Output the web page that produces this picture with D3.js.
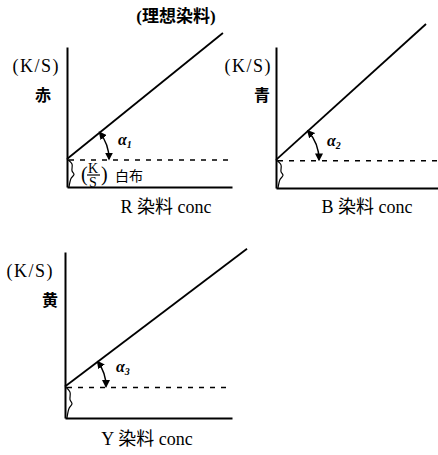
<!DOCTYPE html>
<html>
<head>
<meta charset="utf-8">
<script src="https://cdn.jsdelivr.net/npm/d3@7"></script>
<style>
  html, body { margin: 0; padding: 0; background: #fff; }
  svg { display: block; }
  text { font-family: "Liberation Serif", "Noto Sans CJK JP", serif; fill: #000; }
</style>
</head>
<body>
<script>
// ---- data ----
const title = "(理想染料)";
const dyeNames = ["R", "B", "Y"];
const colorLabels = ["赤", "青", "黄"];
const yAxisLabels = ["(K/S)", "(K/S)", "(K/S)"];
const whiteClothKS = [0.2, 0.2, 0.19];     // K/S of white cloth (intercept)
const lineEndConc = [0.945, 0.926, 1.09];  // dye concentration at end of line
const lineEndKS = [1.1, 1.163, 1.02];      // K/S at end of line
const angleSubs = ["1", "2", "3"];
const whiteClothLabel = "白布";

// ---- layout ----
const W = 438, H = 455;
const panels = [
  { x0: 67, x1: 232, yB: 187, yT: 47, ksEnd: 60, colX: 43, xlabX: 166, xlabY: 213, r: 42 },
  { x0: 276, x1: 438, yB: 188, yT: 47, ksEnd: 272, colX: 262, xlabX: 367, xlabY: 213, r: 43 },
  { x0: 65, x1: 232, yB: 418, yT: 252, ksEnd: 54, colX: 50, xlabX: 147, xlabY: 445, r: 41 }
];

const svg = d3.select("body").append("svg").attr("width", W).attr("height", H);

const defs = svg.append("defs");
defs.append("marker")
  .attr("id", "ah").attr("viewBox", "0 0 10 10").attr("refX", 8).attr("refY", 5)
  .attr("markerWidth", 8).attr("markerHeight", 8).attr("markerUnits", "userSpaceOnUse")
  .attr("orient", "auto-start-reverse")
  .append("path").attr("d", "M0,0 L10,5 L0,10 Z").attr("fill", "#000");

svg.append("text").attr("x", 176).attr("y", 22).attr("text-anchor", "middle")
  .attr("font-size", 17).attr("font-weight", 600).text(title);

panels.forEach((p, i) => {
  const x = d3.scaleLinear().domain([0, 1]).range([p.x0, p.x1]);
  const y = d3.scaleLinear().domain([0, 1]).range([p.yB, p.yT]);
  const g = svg.append("g");

  // axes
  const xAxis = d3.axisBottom(x).tickValues([]).tickSizeOuter(0);
  const yAxis = d3.axisLeft(y).tickValues([]).tickSizeOuter(0);
  const gx = g.append("g").attr("transform", `translate(0,${p.yB})`).call(xAxis);
  const gy = g.append("g").attr("transform", `translate(${p.x0},0)`).call(yAxis);
  [gx, gy].forEach(a => a.select(".domain").attr("stroke", "#000").attr("stroke-width", 2));

  // white cloth dashed level
  g.append("line")
    .attr("x1", x(0) + 2).attr("x2", x(1))
    .attr("y1", y(whiteClothKS[i]) + 1).attr("y2", y(whiteClothKS[i]) + 1)
    .attr("stroke", "#000").attr("stroke-width", 1.6).attr("stroke-dasharray", "5,6");

  // ideal dye line
  const pts = [[0, whiteClothKS[i]], [lineEndConc[i], lineEndKS[i]]];
  g.append("path")
    .attr("d", d3.line().x(d => x(d[0])).y(d => y(d[1]))(pts))
    .attr("stroke", "#000").attr("stroke-width", 1.8).attr("fill", "none");

  // brace
  const yW = y(whiteClothKS[i]), y0 = y(0), xs = x(0);
  const h = y0 - yW;
  const brace = [[xs, yW], [xs + 5, yW + h * 0.18], [xs + 5, yW + h * 0.42],
                 [xs + 7, yW + h * 0.55], [xs + 4, yW + h * 0.7], [xs + 2, y0]];
  g.append("path").attr("d", d3.line().curve(d3.curveCatmullRom)(brace))
    .attr("stroke", "#000").attr("stroke-width", 1.2).attr("fill", "none");

  // angle arc with arrows
  const sx = x(0), sy = y(whiteClothKS[i]);
  const ex = x(lineEndConc[i]), ey = y(lineEndKS[i]);
  const ang = Math.atan2(ey - sy, ex - sx);
  const r = p.r;
  const ax1 = sx + r * Math.cos(ang), ay1 = sy + r * Math.sin(ang);
  const ax2 = sx + r, ay2 = sy;
  g.append("path")
    .attr("d", `M${ax1},${ay1} A${r},${r} 0 0 1 ${ax2},${ay2}`)
    .attr("stroke", "#000").attr("stroke-width", 1.5).attr("fill", "none")
    .attr("marker-start", "url(#ah)").attr("marker-end", "url(#ah)");

  // alpha label
  const al = g.append("text").attr("x", sx + 51).attr("y", sy - 14)
    .attr("font-size", 16).attr("font-style", "italic").attr("font-weight", 700);
  al.append("tspan").text("α");
  al.append("tspan").attr("dy", 3).attr("font-size", 10).text(angleSubs[i]);

  // y labels
  g.append("text").attr("x", p.ksEnd).attr("y", p.yT + 25).attr("text-anchor", "end")
    .attr("font-size", 18).attr("letter-spacing", 1.5).text(yAxisLabels[i]);
  g.append("text").attr("x", p.colX).attr("y", p.yT + 54).attr("text-anchor", "middle")
    .attr("font-size", 16).attr("font-weight", 700).text(colorLabels[i]);

  // x label
  g.append("text").attr("x", p.xlabX).attr("y", p.xlabY).attr("text-anchor", "middle")
    .attr("font-size", 18).text(`${dyeNames[i]} 染料 conc`);

  // white cloth (K/S) annotation in first panel
  if (i === 0) {
    const bx = xs + 14;
    g.append("text").attr("x", bx).attr("y", yW + 22).attr("font-size", 20).text("(");
    g.append("text").attr("x", bx + 12).attr("y", yW + 14).attr("text-anchor", "middle")
      .attr("font-size", 14).text("K");
    g.append("line").attr("x1", bx + 6).attr("x2", bx + 19)
      .attr("y1", yW + 16).attr("y2", yW + 16).attr("stroke", "#000").attr("stroke-width", 1.2);
    g.append("text").attr("x", bx + 12).attr("y", yW + 28).attr("text-anchor", "middle")
      .attr("font-size", 14).text("S");
    g.append("text").attr("x", bx + 20).attr("y", yW + 22).attr("font-size", 20).text(")");
    g.append("text").attr("x", bx + 34).attr("y", yW + 22).attr("font-size", 14).text(whiteClothLabel);
  }
});
</script>
</body>
</html>
